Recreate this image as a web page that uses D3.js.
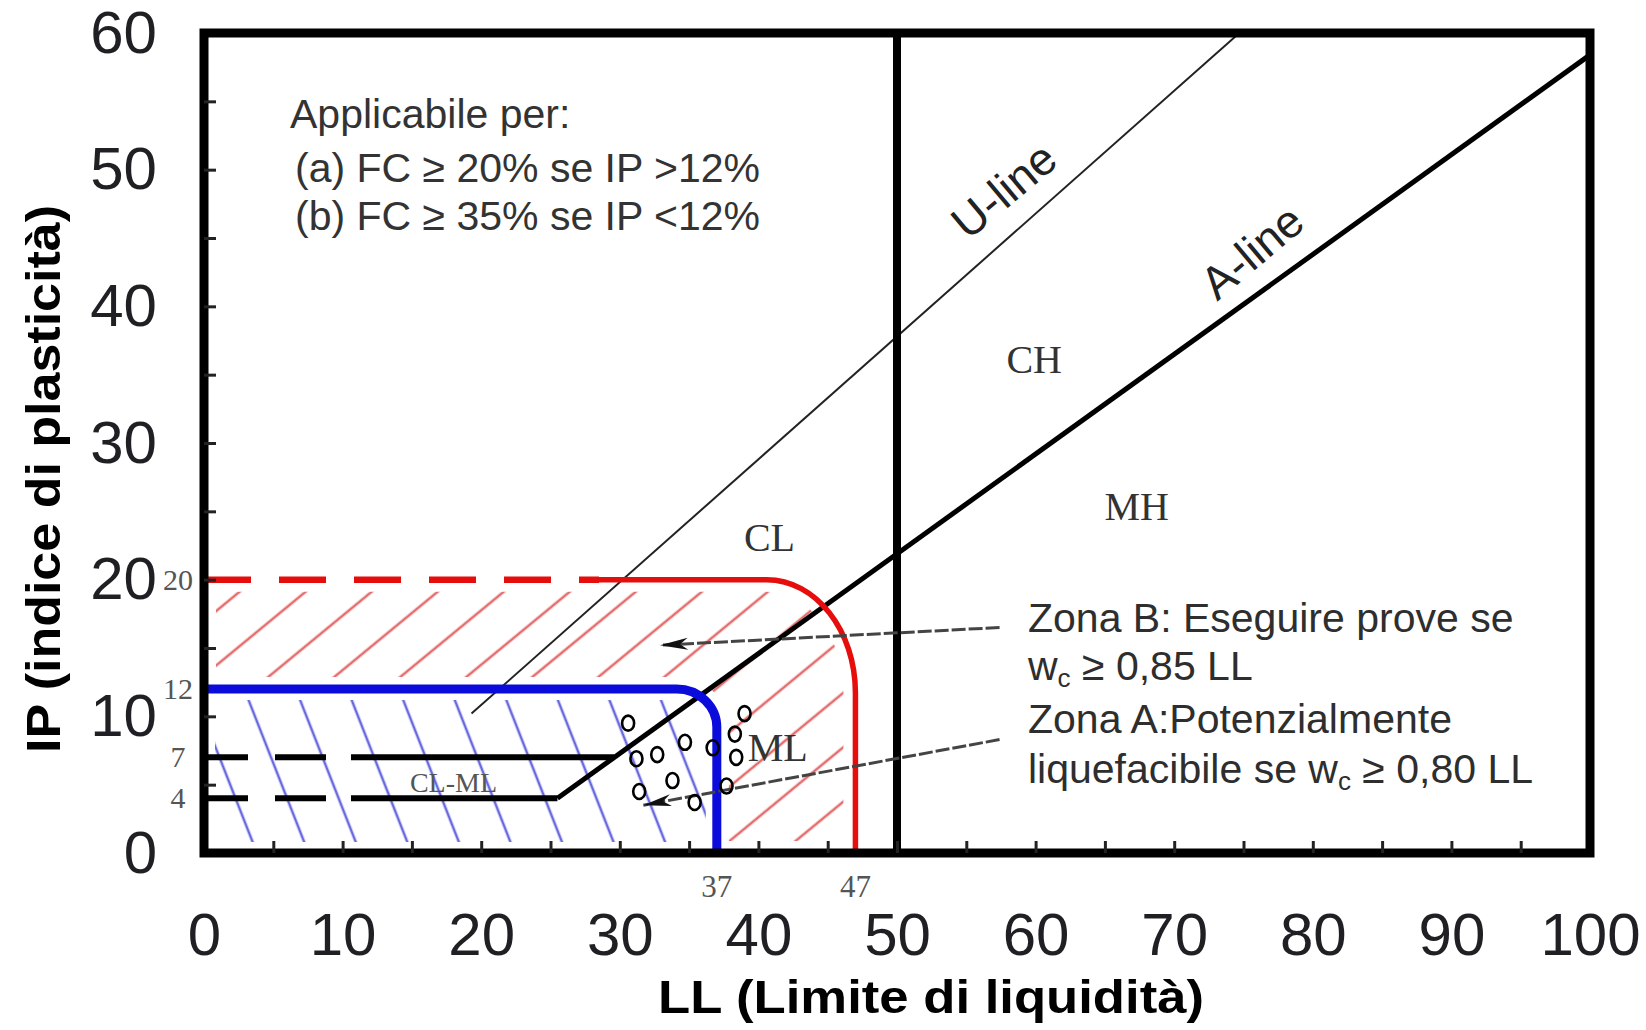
<!DOCTYPE html>
<html>
<head>
<meta charset="utf-8">
<script src="https://cdn.jsdelivr.net/npm/d3@7"></script>
<style>
  html, body { margin: 0; padding: 0; background: #fff; }
  svg { display: block; }
</style>
</head>
<body>
<div id="chart"></div>
<script>
;(function () {
  const width = 1646
  const height = 1030

  // axis ticks
  const llTicks = [0, 10, 20, 30, 40, 50, 60, 70, 80, 90, 100]
  const ipTicks = [0, 10, 20, 30, 40, 50, 60]
  const llMinor = [5, 10, 15, 20, 25, 30, 35, 40, 45, 50, 55, 60, 65, 70, 75, 80, 85, 90, 95]
  const ipMinor = [5, 10, 15, 20, 25, 30, 35, 40, 45, 50, 55]

  // classification lines [LL, IP]
  const aLine = [[25.5, 4], [100, 58.4]]
  const uLine = [[19.3, 10.2], [74.7, 60]]
  const clmlIP = [7, 4]
  const clmlEnd = [29.6, 25.5]
  const llBoundary = 50

  // zones (LL limit, IP limit, corner rounding in units)
  const zoneB = { ll: 47, ip: 20, rLL: 6.4, rIP: 8.3, dashTo: 28.5 }
  const zoneA = { ll: 37, ip: 12, rLL: 2.9, rIP: 2.8 }

  // samples
  const sampleLL = [30.6, 39.0, 38.3, 31.2, 32.7, 34.7, 36.7, 38.4, 33.8, 31.4, 35.4, 37.7]
  const sampleIP = [9.5, 10.2, 8.7, 6.9, 7.2, 8.1, 7.7, 7.0, 5.3, 4.5, 3.7, 4.9]

  // region labels
  const zoneNames = ["CL", "CH", "MH", "ML", "CL-ML"]
  const zoneNameLL = [40.8, 59.9, 67.3, 41.4, 18.0]
  const zoneNameIP = [22.1, 35.1, 24.4, 6.7, 4.5]

  // arrows [from, to]
  const arrowB = [[57.4, 16.5], [32.9, 15.2]]
  const arrowA = [[57.4, 8.3], [31.7, 3.5]]

  const x = d3.scaleLinear().domain([0, 100]).range([204, 1590])
  const y = d3.scaleLinear().domain([0, 60]).range([853, 33])

  const svg = d3.select("#chart").append("svg")
    .attr("width", width)
    .attr("height", height)

  const defs = svg.append("defs")

  // hatch patterns
  function hatch(id, spacing, angle, color) {
    const p = defs.append("pattern")
      .attr("id", id)
      .attr("patternUnits", "userSpaceOnUse")
      .attr("width", spacing)
      .attr("height", 10)
      .attr("patternTransform", `rotate(${angle})`)
    p.append("line")
      .attr("x1", spacing / 2).attr("x2", spacing / 2)
      .attr("y1", -1).attr("y2", 11)
      .attr("stroke", color)
      .attr("stroke-width", 2.6)
  }
  hatch("hatchRed", 42, 50.5, "#e56d6d")
  hatch("hatchBlue", 48, -21.4, "#6a6ae0")

  // rounded box from origin to (ll, ip), pad in px
  function boxPath(b, pad) {
    const k = 0.5523
    const x0 = x(0) + pad, y0 = y(0) - pad
    const xr = x(b.ll) - pad, yt = y(b.ip) + pad
    const xc = x(b.ll - b.rLL), yc = y(b.ip - b.rIP)
    return `M${x0},${y0}L${x0},${yt}L${xc},${yt}` +
      `C${xc + (xr - xc) * k},${yt} ${xr},${yc - (yc - yt) * k} ${xr},${yc}` +
      `L${xr},${y0}Z`
  }

  const redMask = defs.append("mask").attr("id", "redMask")
  redMask.append("path").attr("d", boxPath(zoneB, 12)).attr("fill", "#fff")
  redMask.append("path").attr("d", boxPath(zoneA, -12)).attr("fill", "#000")
  const blueMask = defs.append("mask").attr("id", "blueMask")
  blueMask.append("path").attr("d", boxPath(zoneA, 11)).attr("fill", "#fff")

  svg.append("rect")
    .attr("x", x(0)).attr("y", y(zoneB.ip))
    .attr("width", x(zoneB.ll) - x(0)).attr("height", y(0) - y(zoneB.ip))
    .attr("fill", "url(#hatchRed)")
    .attr("mask", "url(#redMask)")
  svg.append("rect")
    .attr("x", x(0)).attr("y", y(zoneA.ip))
    .attr("width", x(zoneA.ll) - x(0)).attr("height", y(0) - y(zoneA.ip))
    .attr("fill", "url(#hatchBlue)")
    .attr("mask", "url(#blueMask)")

  const line = d3.line().x(d => x(d[0])).y(d => y(d[1]))

  // U-line and A-line
  svg.append("path").attr("d", line(uLine))
    .attr("stroke", "#222").attr("stroke-width", 2).attr("fill", "none")
  svg.append("path").attr("d", line(aLine))
    .attr("stroke", "#000").attr("stroke-width", 5).attr("fill", "none")

  // CL-ML limits
  svg.selectAll(".clml")
    .data(clmlIP)
    .join("path")
    .attr("class", "clml")
    .attr("d", (d, i) => line([[0, d], [clmlEnd[i], d]]))
    .attr("stroke", "#000")
    .attr("stroke-width", 6)
    .attr("stroke-dasharray", "44,27,51,25,3000")
    .attr("fill", "none")

  // zone B (red)
  function cornerPath(b, fromLL) {
    const k = 0.5523
    const xr = x(b.ll), yt = y(b.ip)
    const xc = x(b.ll - b.rLL), yc = y(b.ip - b.rIP)
    return `M${x(fromLL)},${yt}L${xc},${yt}` +
      `C${xc + (xr - xc) * k},${yt} ${xr},${yc - (yc - yt) * k} ${xr},${yc}` +
      `L${xr},${y(0)}`
  }
  svg.append("path")
    .attr("d", line([[0, zoneB.ip], [zoneB.dashTo, zoneB.ip]]))
    .attr("stroke", "#e60d0d").attr("stroke-width", 6.5)
    .attr("stroke-dasharray", "47,28").attr("fill", "none")
  svg.append("path")
    .attr("d", cornerPath(zoneB, zoneB.dashTo))
    .attr("stroke", "#e60d0d").attr("stroke-width", 5.5).attr("fill", "none")

  // zone A (blue)
  svg.append("path")
    .attr("d", cornerPath(zoneA, 0))
    .attr("stroke", "#0b0bdc").attr("stroke-width", 9).attr("fill", "none")

  // frame and LL = 50
  svg.append("rect")
    .attr("x", x(0)).attr("y", y(60))
    .attr("width", x(100) - x(0)).attr("height", y(0) - y(60))
    .attr("fill", "none").attr("stroke", "#000").attr("stroke-width", 9)
  svg.append("path")
    .attr("d", line([[llBoundary, 0], [llBoundary, 60]]))
    .attr("stroke", "#000").attr("stroke-width", 8)

  // axes
  const gxm = svg.append("g").attr("transform", `translate(0,${y(0)})`)
    .call(d3.axisBottom(x).tickValues(llMinor).tickSize(-12).tickFormat(""))
  const gym = svg.append("g").attr("transform", `translate(${x(0)},0)`)
    .call(d3.axisLeft(y).tickValues(ipMinor).tickSize(-12).tickFormat(""))
  ;[gxm, gym].forEach(g => {
    g.select(".domain").remove()
    g.selectAll("line").attr("stroke", "#222").attr("stroke-width", 3)
  })

  const gx = svg.append("g").attr("transform", `translate(0,${y(0)})`)
    .call(d3.axisBottom(x).tickValues(llTicks).tickSize(0).tickPadding(59))
  const gy = svg.append("g").attr("transform", `translate(${x(0)},0)`)
    .call(d3.axisLeft(y).tickValues(ipTicks).tickSize(0).tickPadding(47))
  ;[gx, gy].forEach(g => {
    g.select(".domain").remove()
    g.attr("font-family", "'Liberation Sans', Arial, sans-serif")
      .attr("font-size", 60)
    g.selectAll("text").attr("fill", "#1f1f24")
  })

  // axis titles
  svg.append("text")
    .attr("x", 931).attr("y", 1013)
    .attr("text-anchor", "middle")
    .attr("font-family", "'Liberation Sans', Arial, sans-serif")
    .attr("font-size", 46).attr("font-weight", "bold")
    .attr("textLength", 546).attr("lengthAdjust", "spacingAndGlyphs")
    .text("LL (Limite di liquidità)")
  svg.append("text")
    .attr("transform", "translate(60,479) rotate(-90)")
    .attr("text-anchor", "middle")
    .attr("font-family", "'Liberation Sans', Arial, sans-serif")
    .attr("font-size", 48).attr("font-weight", "bold")
    .attr("textLength", 548).attr("lengthAdjust", "spacingAndGlyphs")
    .text("IP (indice di plasticità)")

  // small limit values
  const serif = "'Liberation Serif', 'Times New Roman', serif"
  const limitIP = [20, 12, 7, 4]
  svg.selectAll(".limIP")
    .data(limitIP)
    .join("text")
    .attr("class", "limIP")
    .attr("x", x(0) - 26)
    .attr("y", d => y(d) + 10)
    .attr("text-anchor", "middle")
    .attr("font-family", serif).attr("font-size", 30)
    .attr("fill", "#555")
    .text(d => d)
  const limitLL = [37, 47]
  svg.selectAll(".limLL")
    .data(limitLL)
    .join("text")
    .attr("class", "limLL")
    .attr("x", d => x(d))
    .attr("y", y(0) + 44)
    .attr("text-anchor", "middle")
    .attr("font-family", serif).attr("font-size", 31)
    .attr("fill", "#555")
    .text(d => d)

  // zone names
  svg.selectAll(".zname")
    .data(zoneNames)
    .join("text")
    .attr("class", "zname")
    .attr("x", (d, i) => x(zoneNameLL[i]))
    .attr("y", (d, i) => y(zoneNameIP[i]))
    .attr("text-anchor", "middle")
    .attr("font-family", serif)
    .attr("font-size", d => d === "CL-ML" ? 28 : 40)
    .attr("fill", d => d === "CL-ML" ? "#555" : "#333")
    .text(d => d)

  // line names
  const sans = "'Liberation Sans', Arial, sans-serif"
  svg.append("text")
    .attr("transform", `translate(${x(57.7)},${y(48.5)}) rotate(-40)`)
    .attr("dy", "0.35em")
    .attr("text-anchor", "middle")
    .attr("font-family", sans).attr("font-size", 46).attr("fill", "#222")
    .text("U-line")
  svg.append("text")
    .attr("transform", `translate(${x(75.6)},${y(44.0)}) rotate(-40)`)
    .attr("dy", "0.35em")
    .attr("text-anchor", "middle")
    .attr("font-family", sans).attr("font-size", 46).attr("fill", "#222")
    .text("A-line")

  // applicability note
  const note = svg.append("text")
    .attr("font-family", sans).attr("font-size", 41).attr("fill", "#333")
  note.append("tspan").attr("x", 290).attr("y", 128).text("Applicabile per:")
  note.append("tspan").attr("x", 295).attr("y", 182).text("(a) FC ≥ 20% se IP >12%")
  note.append("tspan").attr("x", 295).attr("y", 230).text("(b) FC ≥ 35% se IP <12%")

  // zone notes
  const zt = svg.append("text")
    .attr("font-family", sans).attr("font-size", 41).attr("fill", "#2e2e2e")
  zt.append("tspan").attr("x", 1028).attr("y", 632).text("Zona B: Eseguire prove se")
  const l2 = zt.append("tspan").attr("x", 1028).attr("y", 680)
  l2.append("tspan").text("w")
  l2.append("tspan").attr("font-size", 26).attr("dy", 7).text("c")
  l2.append("tspan").attr("dy", -7).text(" ≥ 0,85 LL")
  zt.append("tspan").attr("x", 1028).attr("y", 733).text("Zona A:Potenzialmente")
  const l4 = zt.append("tspan").attr("x", 1028).attr("y", 783)
  l4.append("tspan").text("liquefacibile se w")
  l4.append("tspan").attr("font-size", 26).attr("dy", 7).text("c")
  l4.append("tspan").attr("dy", -7).text(" ≥ 0,80 LL")

  // arrows
  defs.append("marker")
    .attr("id", "head")
    .attr("viewBox", "-30 -8 32 16")
    .attr("refX", 0).attr("refY", 0)
    .attr("markerUnits", "userSpaceOnUse")
    .attr("markerWidth", 32).attr("markerHeight", 16)
    .attr("orient", "auto")
    .append("path")
    .attr("d", "M0,0L-28,-6L-20,0L-28,6Z")
    .attr("fill", "#111")
  ;[arrowB, arrowA].forEach(a => {
    svg.append("path")
      .attr("d", line(a))
      .attr("stroke", "#444").attr("stroke-width", 3)
      .attr("stroke-dasharray", "14,3")
      .attr("fill", "none")
      .attr("marker-end", "url(#head)")
  })

  // samples
  svg.selectAll(".sample")
    .data(sampleLL)
    .join("ellipse")
    .attr("class", "sample")
    .attr("cx", d => x(d))
    .attr("cy", (d, i) => y(sampleIP[i]))
    .attr("rx", 6)
    .attr("ry", 7.5)
    .attr("fill", "none")
    .attr("stroke", "#000")
    .attr("stroke-width", 2.6)
})()
</script>
</body>
</html>
